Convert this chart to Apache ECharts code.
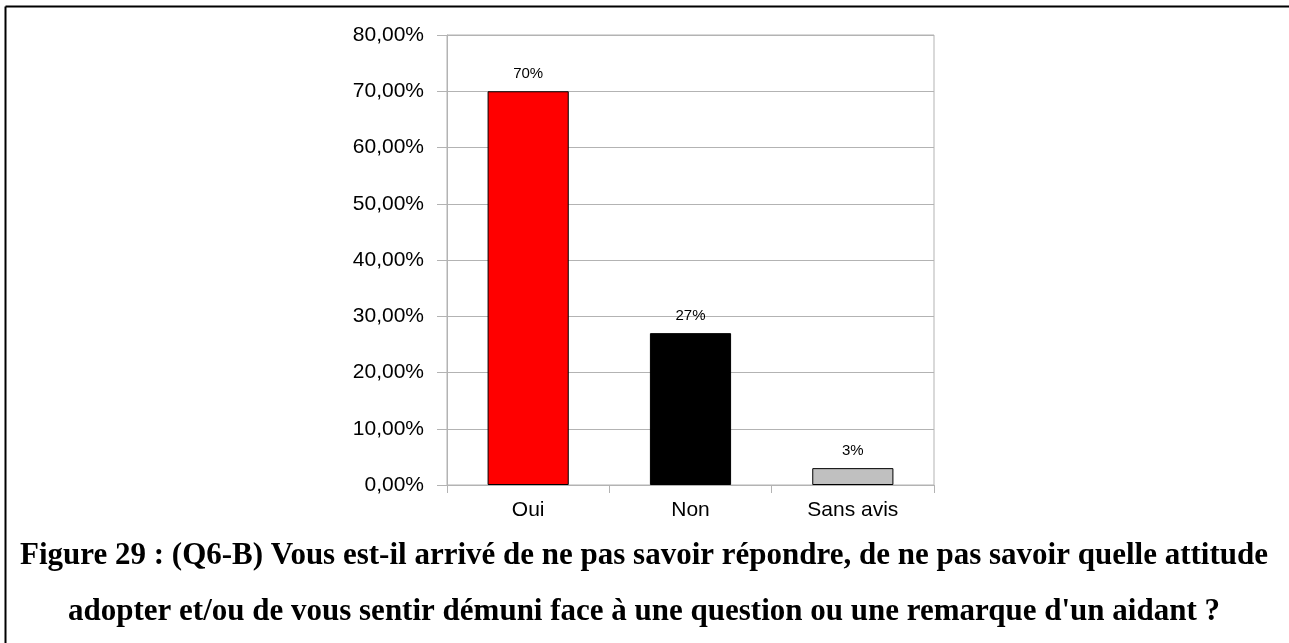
<!DOCTYPE html>
<html>
<head>
<meta charset="utf-8">
<script src="https://cdn.jsdelivr.net/npm/echarts@6/dist/echarts.min.js"></script>
<style>
  html, body { margin: 0; padding: 0; background: #fff; }
  #chart { width: 1289px; height: 643px; }
</style>
</head>
<body>
<div id="chart"></div>
<script>
// chart data
var categories = ['Oui', 'Non', 'Sans avis'];
var values = [70, 27, 3];
var barColors = ['#ff0000', '#000000', '#c0c0c0'];
var valueLabels = ['70%', '27%', '3%'];
var captionLines = [
    "Figure 29 : (Q6-B) Vous est-il arrivé de ne pas savoir répondre, de ne pas savoir quelle attitude",
    "adopter et/ou de vous sentir démuni face à une question ou une remarque d'un aidant ?"
];

var chart = echarts.init(document.getElementById('chart'));

var barData = values.map(function (v, i) {
    return {
        value: v,
        itemStyle: { color: barColors[i] },
        label: { formatter: valueLabels[i] }
    };
});

chart.setOption({
    animation: false,
    backgroundColor: '#ffffff',
    grid: { left: 447, right: 355, top: 35, bottom: 158, show: true, borderColor: '#b3b3b3', borderWidth: 1 },
    xAxis: {
        type: 'category',
        data: categories,
        axisLine: { lineStyle: { color: '#b3b3b3' } },
        axisTick: { show: true, length: 8, lineStyle: { color: '#b3b3b3' } },
        axisLabel: { color: '#000', fontFamily: 'Liberation Sans', fontSize: 21, margin: 15 }
    },
    yAxis: {
        type: 'value',
        min: 0, max: 80, interval: 10,
        axisLine: { show: true, lineStyle: { color: '#b3b3b3' } },
        axisTick: { show: true, length: 10, lineStyle: { color: '#b3b3b3' } },
        splitLine: { lineStyle: { color: '#b3b3b3' } },
        axisLabel: {
            color: '#000', fontFamily: 'Liberation Sans', fontSize: 21, margin: 23,
            formatter: function (v) { return v.toFixed(2).replace('.', ',') + '%'; }
        }
    },
    series: [{
        type: 'bar',
        data: barData,
        barWidth: '50%',
        itemStyle: { borderColor: '#000', borderWidth: 1 },
        label: { show: true, position: 'top', distance: 10, color: '#000', fontFamily: 'Liberation Sans', fontSize: 15 }
    }],
    graphic: [
        { type: 'line', shape: { x1: 5.5, y1: 6.5, x2: 1289, y2: 6.5 }, style: { stroke: '#000', lineWidth: 2 } },
        { type: 'line', shape: { x1: 5.5, y1: 6.5, x2: 5.5, y2: 643 }, style: { stroke: '#000', lineWidth: 2 } },
        {
            type: 'text', x: 644, y: 556,
            style: { text: captionLines[0], font: 'bold 31px "Liberation Serif"', fill: '#000', align: 'center', verticalAlign: 'middle' }
        },
        {
            type: 'text', x: 644, y: 612,
            style: { text: captionLines[1], font: 'bold 31px "Liberation Serif"', fill: '#000', align: 'center', verticalAlign: 'middle' }
        }
    ]
});
</script>
</body>
</html>
